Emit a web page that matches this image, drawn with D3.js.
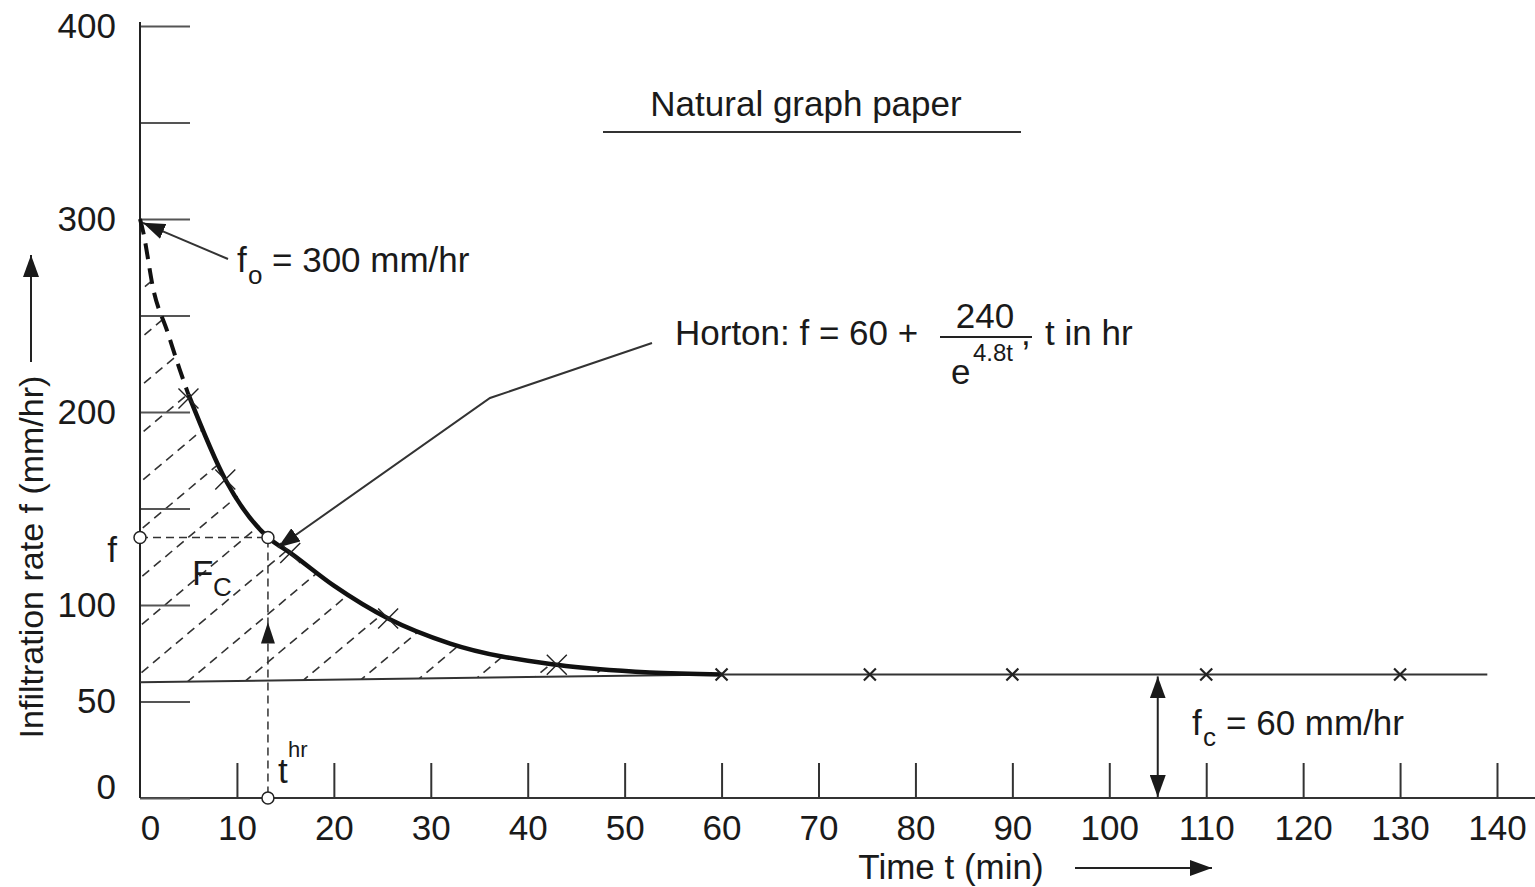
<!DOCTYPE html>
<html>
<head>
<meta charset="utf-8">
<script src="https://cdn.jsdelivr.net/npm/d3@7"></script>
<style>
  body { margin: 0; background: #fff; }
  text { font-family: "Liberation Sans", Arial, sans-serif; fill: #1a1a1a; }
</style>
</head>
<body>
<div class="chart"></div>
<script>
///////////////////////////////////////////////////
//  Data
///////////////////////////////////////////////////

// time in min, infiltration rate in mm/hr
const dashedT = [0, 0.3, 1.4, 2.8, 4.1, 5];
const dashedF = [300, 294, 263, 242, 222, 209];

const curveT = [5, 8.8, 13.2, 15.5, 20, 25.6, 32, 43, 52.6, 60];
const curveF = [209, 165, 135, 127, 110, 93, 80, 69, 65, 64];

const baseT = [0, 60];
const baseF = [60, 64];

const flatT = [60, 139];
const flatF = [64, 64];

const crossCurveT = [5, 8.8, 15.5, 25.6, 43];
const crossCurveF = [207, 165, 127, 93, 69];
const crossFlatT = [60, 75.3, 90, 110, 130];
const crossFlatF = [64, 64, 64, 64, 64];

const pointT = 13.2;
const pointF = 135;

const xTicks = [0, 10, 20, 30, 40, 50, 60, 70, 80, 90, 100, 110, 120, 130, 140];
const yTicks = [0, 50, 100, 150, 200, 250, 300, 350, 400];
const yTickLabels = { 0: "0", 50: "50", 100: "100", 200: "200", 300: "300", 400: "400" };

///////////////////////////////////////////////////
//  Setup
///////////////////////////////////////////////////

let width = 1535;
let height = 887;

let x = d3.scaleLinear().domain([0, 140]).range([140, 1497]);
let y = d3.scaleLinear().domain([0, 400]).range([798, 26]);

let svg = d3.select('.chart')
  .append('svg')
    .attr('width', width)
    .attr('height', height);

let defs = svg.append('defs');

function arrowMarker(id, len, wid) {
  defs.append('marker')
    .attr('id', id)
    .attr('viewBox', `0 0 ${len} ${wid}`)
    .attr('markerUnits', 'userSpaceOnUse')
    .attr('markerWidth', len)
    .attr('markerHeight', wid)
    .attr('refX', len)
    .attr('refY', wid / 2)
    .attr('orient', 'auto-start-reverse')
    .append('path')
      .attr('d', `M0,0 L${len},${wid / 2} L0,${wid} Z`)
      .style('fill', '#1a1a1a');
}
arrowMarker('arrow', 22, 16);

const fs = 35;
const subFs = 26;

///////////////////////////////////////////////////
//  Hatched area F_C
///////////////////////////////////////////////////

let hatchTop = dashedT.map((t, i) => [t, dashedF[i]])
  .concat(curveT.slice(1).map((t, i) => [t, curveF[i + 1]]));
let hatchPoly = hatchTop.concat([[baseT[1], baseF[1]], [baseT[0], baseF[0]]]);

defs.append('clipPath')
  .attr('id', 'hatch-clip')
  .append('path')
    .attr('d', d3.line().x(d => x(d[0])).y(d => y(d[1])).curve(d3.curveLinearClosed)(hatchPoly));

let hatchG = svg.append('g').attr('clip-path', 'url(#hatch-clip)');
// parallel dashed lines, ~40 degrees
const hatchSlope = 0.84, hatchStep = 57;
for (let k = -12; k <= 11; k++) {
  let xb = 187 + k * hatchStep;
  let yb = y(60);
  hatchG.append('line')
    .attr('x1', xb)
    .attr('y1', yb)
    .attr('x2', xb + 700)
    .attr('y2', yb - 700 * hatchSlope)
    .style('stroke', '#333')
    .style('stroke-width', 1.6)
    .style('stroke-dasharray', '9,6');
}

///////////////////////////////////////////////////
//  Axes
///////////////////////////////////////////////////

let xAxis = svg.append('g')
  .attr('transform', `translate(0, ${y(0)})`)
  .call(d3.axisBottom(x).tickValues(xTicks).tickSizeInner(-35).tickSizeOuter(0).tickPadding(17))
  .call(g => g.select('.domain').remove());
xAxis.selectAll('.tick line')
  .style('stroke', '#333')
  .style('stroke-width', 2)
  .filter(d => d === 0).remove();
xAxis.selectAll('.tick text')
  .style('font-size', fs + 'px')
  .style('font-family', '"Liberation Sans", Arial, sans-serif')
  .style('fill', '#1a1a1a')
  .attr('x', d => d === 0 ? 10 : 0);

svg.append('line')
  .attr('x1', x(0)).attr('y1', y(0))
  .attr('x2', 1535).attr('y2', y(0))
  .style('stroke', '#333')
  .style('stroke-width', 2);

let yAxis = svg.append('g')
  .attr('transform', `translate(${x(0)}, 0)`)
  .call(d3.axisLeft(y).tickValues(yTicks).tickSizeInner(-50).tickSizeOuter(0).tickPadding(24)
    .tickFormat(d => yTickLabels[d] || ''))
  .call(g => g.select('.domain').remove());
yAxis.selectAll('.tick line')
  .style('stroke', '#555')
  .style('stroke-width', 2);
yAxis.selectAll('.tick text')
  .style('font-size', fs + 'px')
  .style('font-family', '"Liberation Sans", Arial, sans-serif')
  .style('fill', '#1a1a1a')
  .attr('dy', d => d === 0 ? '0.0em' : '0.32em');

svg.append('line')
  .attr('x1', x(0)).attr('y1', 22)
  .attr('x2', x(0)).attr('y2', y(0))
  .style('stroke', '#222')
  .style('stroke-width', 2);

///////////////////////////////////////////////////
//  Curves
///////////////////////////////////////////////////

let line = d3.line().x(d => x(d[0])).y(d => y(d[1]));

svg.append('path')
  .attr('d', line(baseT.map((t, i) => [t, baseF[i]])))
  .style('fill', 'none')
  .style('stroke', '#333')
  .style('stroke-width', 2);

svg.append('path')
  .attr('d', line(flatT.map((t, i) => [t, flatF[i]])))
  .style('fill', 'none')
  .style('stroke', '#333')
  .style('stroke-width', 2);

svg.append('path')
  .attr('d', line.curve(d3.curveMonotoneX)(dashedT.map((t, i) => [t, dashedF[i]])))
  .style('fill', 'none')
  .style('stroke', '#111')
  .style('stroke-width', 4)
  .style('stroke-dasharray', '16,9');

svg.append('path')
  .attr('d', line.curve(d3.curveMonotoneX)(curveT.map((t, i) => [t, curveF[i]])))
  .style('fill', 'none')
  .style('stroke', '#111')
  .style('stroke-width', 4.5);

function drawCross(t, f, r, w) {
  svg.append('path')
    .attr('d', `M${x(t) - r},${y(f) - r} L${x(t) + r},${y(f) + r} M${x(t) - r},${y(f) + r} L${x(t) + r},${y(f) - r}`)
    .style('stroke', '#222')
    .style('stroke-width', w);
}
crossCurveT.forEach((t, i) => drawCross(t, crossCurveF[i], 10, 1.4));
crossFlatT.forEach((t, i) => drawCross(t, crossFlatF[i], 6, 2.2));

///////////////////////////////////////////////////
//  Point f, t
///////////////////////////////////////////////////

svg.append('path')
  .attr('d', `M${x(0)},${y(pointF)} H${x(pointT)} V${y(0)}`)
  .style('fill', 'none')
  .style('stroke', '#333')
  .style('stroke-width', 1.5)
  .style('stroke-dasharray', '8,5');

svg.append('path')
  .attr('d', `M${x(pointT) - 7},${y(80)} L${x(pointT)},${y(91)} L${x(pointT) + 7},${y(80)} Z`)
  .style('fill', '#1a1a1a');

[[0, pointF], [pointT, pointF], [pointT, 0]].forEach(p => {
  svg.append('circle')
    .attr('cx', x(p[0]))
    .attr('cy', y(p[1]))
    .attr('r', 6)
    .style('fill', '#fff')
    .style('stroke', '#222')
    .style('stroke-width', 1.5);
});

///////////////////////////////////////////////////
//  Annotations
///////////////////////////////////////////////////

function txt(tx, ty, s, size, anchor) {
  return svg.append('text')
    .attr('x', tx)
    .attr('y', ty)
    .attr('text-anchor', anchor || 'start')
    .style('font-size', size + 'px')
    .text(s);
}

// title
txt(806, 116, 'Natural graph paper', fs, 'middle');
svg.append('line')
  .attr('x1', 603).attr('y1', 132)
  .attr('x2', 1021).attr('y2', 132)
  .style('stroke', '#333')
  .style('stroke-width', 2);

// f0 label + arrow
txt(237, 272, 'f', fs);
txt(248, 284, 'o', subFs);
txt(272, 272, '= 300 mm/hr', fs);
svg.append('line')
  .attr('x1', 228).attr('y1', 259)
  .attr('x2', x(0.3)).attr('y2', y(298))
  .attr('marker-end', 'url(#arrow)')
  .style('stroke', '#333')
  .style('stroke-width', 2);

// Horton equation + leader
txt(675, 345, 'Horton: f = 60 +', fs);
txt(985, 328, '240', fs, 'middle');
svg.append('line')
  .attr('x1', 940).attr('y1', 337)
  .attr('x2', 1032).attr('y2', 337)
  .style('stroke', '#222')
  .style('stroke-width', 2);
txt(951, 384, 'e', fs);
txt(973, 361, '4.8t', 24);
txt(1021, 345, ',', fs);
txt(1045, 345, 't in hr', fs);
svg.append('polyline')
  .attr('points', `652,343 490,398 ${x(pointT) + 10},${y(pointF) + 10}`)
  .attr('marker-end', 'url(#arrow)')
  .style('fill', 'none')
  .style('stroke', '#333')
  .style('stroke-width', 2);

// f, Fc, t labels
txt(112, 562, 'f', fs, 'middle');
txt(192, 585, 'F', fs);
txt(213, 596, 'C', subFs);
txt(278, 783, 't', fs);
txt(288, 757, 'hr', 22);

// fc double arrow
svg.append('line')
  .attr('x1', x(105)).attr('y1', y(63))
  .attr('x2', x(105)).attr('y2', y(0.5))
  .attr('marker-start', 'url(#arrow)')
  .attr('marker-end', 'url(#arrow)')
  .style('stroke', '#222')
  .style('stroke-width', 2);
txt(1192, 735, 'f', fs);
txt(1203, 746, 'c', subFs);
txt(1226, 735, '= 60 mm/hr', fs);

// x axis title
txt(951, 879, 'Time t (min)', fs, 'middle');
svg.append('line')
  .attr('x1', 1075).attr('y1', 868)
  .attr('x2', 1212).attr('y2', 868)
  .attr('marker-end', 'url(#arrow)')
  .style('stroke', '#222')
  .style('stroke-width', 2);

// y axis title
svg.append('text')
  .attr('transform', 'translate(43, 557) rotate(-90)')
  .attr('text-anchor', 'middle')
  .style('font-size', '34px')
  .text('Infiltration rate f (mm/hr)');
svg.append('line')
  .attr('x1', 31).attr('y1', 362)
  .attr('x2', 31).attr('y2', 255)
  .attr('marker-end', 'url(#arrow)')
  .style('stroke', '#222')
  .style('stroke-width', 2);
</script>
</body>
</html>
